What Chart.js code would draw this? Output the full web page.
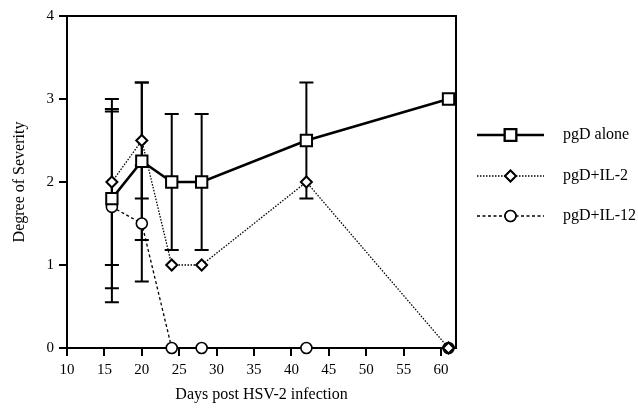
<!DOCTYPE html>
<html>
<head>
<meta charset="utf-8">
<script src="https://cdn.jsdelivr.net/npm/chart.js@4"></script>
<style>
  html, body { margin: 0; padding: 0; background: #fff; }
</style>
</head>
<body>
<canvas id="chart" width="638" height="410"></canvas>
<script>
// values
const days = [16, 20, 24, 28, 42, 61];
const aloneVals = [1.8, 2.25, 2.0, 2.0, 2.5, 3.0];
const il2Vals = [2.0, 2.5, 1.0, 1.0, 2.0, 0];
const il12Vals = [1.7, 1.5, 0, 0, 0, 0];
// +/- error (symmetric)
const aloneErr = [1.08, 0.95, 0.82, 0.82, 0.7, 0];
const il2Err = [1.0, 0.7, 0, 0, 0, 0];
const il12Err = [1.15, 0.7, 0, 0, 0, 0];
const xTicks = [10, 15, 20, 25, 30, 35, 40, 45, 50, 55, 60];
const yTicks = [0, 1, 2, 3, 4];
const seriesNames = ["pgD alone", "pgD+IL-2", "pgD+IL-12"];

const FONT = "'Liberation Serif', 'DejaVu Serif', serif";

function toPoints(vals) {
  return days.map((d, i) => ({ x: d, y: vals[i] }));
}

const errorBars = {
  id: "errorBars",
  beforeDatasetsDraw(chart) {
    const ctx = chart.ctx;
    const yScale = chart.scales.y;
    ctx.save();
    ctx.strokeStyle = "#000";
    ctx.lineWidth = 2;
    chart.data.datasets.forEach((ds, di) => {
      const meta = chart.getDatasetMeta(di);
      meta.data.forEach((pt, i) => {
        const e = ds.errors[i];
        if (!e) return;
        const v = ds.data[i].y;
        const yTop = yScale.getPixelForValue(v + e);
        const yBot = yScale.getPixelForValue(v - e);
        ctx.beginPath();
        ctx.moveTo(pt.x, yTop);
        ctx.lineTo(pt.x, yBot);
        ctx.moveTo(pt.x - 7, yTop);
        ctx.lineTo(pt.x + 7, yTop);
        ctx.moveTo(pt.x - 7, yBot);
        ctx.lineTo(pt.x + 7, yBot);
        ctx.stroke();
      });
    });
    ctx.restore();
  }
};

const frameAndLegend = {
  id: "frameAndLegend",
  afterDraw(chart) {
    const ctx = chart.ctx;
    const a = chart.chartArea;
    ctx.save();
    // top and right edge of the box
    ctx.strokeStyle = "#000";
    ctx.lineWidth = 2;
    ctx.beginPath();
    ctx.moveTo(a.left, a.top);
    ctx.lineTo(a.right, a.top);
    ctx.lineTo(a.right, a.bottom);
    ctx.stroke();

    // legend
    const rows = [135, 176, 216];
    const x0 = a.right + 21, x1 = a.right + 88, xm = (x0 + x1) / 2;
    chart.data.datasets.forEach((ds, i) => {
      const y = rows[i];
      ctx.strokeStyle = "#000";
      ctx.lineWidth = ds.borderWidth;
      ctx.setLineDash(ds.borderDash || []);
      ctx.beginPath();
      ctx.moveTo(x0, y);
      ctx.lineTo(x1, y);
      ctx.stroke();
      ctx.setLineDash([]);
      Chart.helpers.drawPoint(ctx, {
        pointStyle: ds.pointStyle,
        radius: ds.pointRadius,
        borderWidth: ds.pointBorderWidth
      }, xm, y);
      ctx.fillStyle = "#fff";
      ctx.lineWidth = ds.pointBorderWidth;
      ctx.fill();
      ctx.stroke();
      ctx.fillStyle = "#000";
      ctx.font = "16px " + FONT;
      ctx.textBaseline = "middle";
      ctx.fillText(seriesNames[i], a.right + 107, y);
    });
    ctx.restore();
  }
};

new Chart(document.getElementById("chart"), {
  type: "line",
  data: {
    datasets: [
      {
        label: seriesNames[0],
        data: toPoints(aloneVals),
        errors: aloneErr,
        borderColor: "#000",
        borderWidth: 2.5,
        pointStyle: "rect",
        pointRadius: 8,
        pointBorderWidth: 2,
        pointBackgroundColor: "#fff",
        pointBorderColor: "#000",
        order: 1
      },
      {
        label: seriesNames[1],
        data: toPoints(il2Vals),
        errors: il2Err,
        borderColor: "#000",
        borderWidth: 1.3,
        borderDash: [1.5, 1.5],
        pointStyle: "rectRot",
        pointRadius: 5.5,
        pointBorderWidth: 2,
        pointBackgroundColor: "#fff",
        pointBorderColor: "#000",
        order: 2
      },
      {
        label: seriesNames[2],
        data: toPoints(il12Vals),
        errors: il12Err,
        borderColor: "#000",
        borderWidth: 1.3,
        borderDash: [3, 2.5],
        pointStyle: "circle",
        pointRadius: 5.5,
        pointBorderWidth: 1.6,
        pointBackgroundColor: "#fff",
        pointBorderColor: "#000",
        order: 3
      }
    ]
  },
  options: {
    responsive: false,
    animation: false,
    clip: false,
    layout: { padding: { left: 6, right: 182, top: 16, bottom: 2 } },
    plugins: {
      legend: { display: false },
      tooltip: { enabled: false }
    },
    scales: {
      x: {
        type: "linear",
        min: 10,
        max: 62,
        afterBuildTicks: s => { s.ticks = xTicks.map(v => ({ value: v })); },
        afterFit: s => { s.height = 410 - 348 - 2; },
        grid: { display: true, drawOnChartArea: false, drawTicks: true, tickLength: 8, color: "#000", lineWidth: 2 },
        border: { display: true, color: "#000", width: 2 },
        ticks: { color: "#000", font: { family: FONT, size: 15 }, padding: 5, maxRotation: 0 },
        title: { display: true, text: "Days post HSV-2 infection", color: "#000", font: { family: FONT, size: 16 }, padding: 4 }
      },
      y: {
        type: "linear",
        min: 0,
        max: 4,
        afterBuildTicks: s => { s.ticks = yTicks.map(v => ({ value: v })); },
        afterFit: s => { s.width = 67 - 6; },
        grid: { display: true, drawOnChartArea: false, drawTicks: true, tickLength: 8, color: "#000", lineWidth: 2 },
        border: { display: true, color: "#000", width: 2 },
        ticks: { color: "#000", font: { family: FONT, size: 15 }, padding: 5 },
        title: { display: true, text: "Degree of Severity", color: "#000", font: { family: FONT, size: 16 }, padding: 4 }
      }
    }
  },
  plugins: [errorBars, frameAndLegend]
});
</script>
</body>
</html>
